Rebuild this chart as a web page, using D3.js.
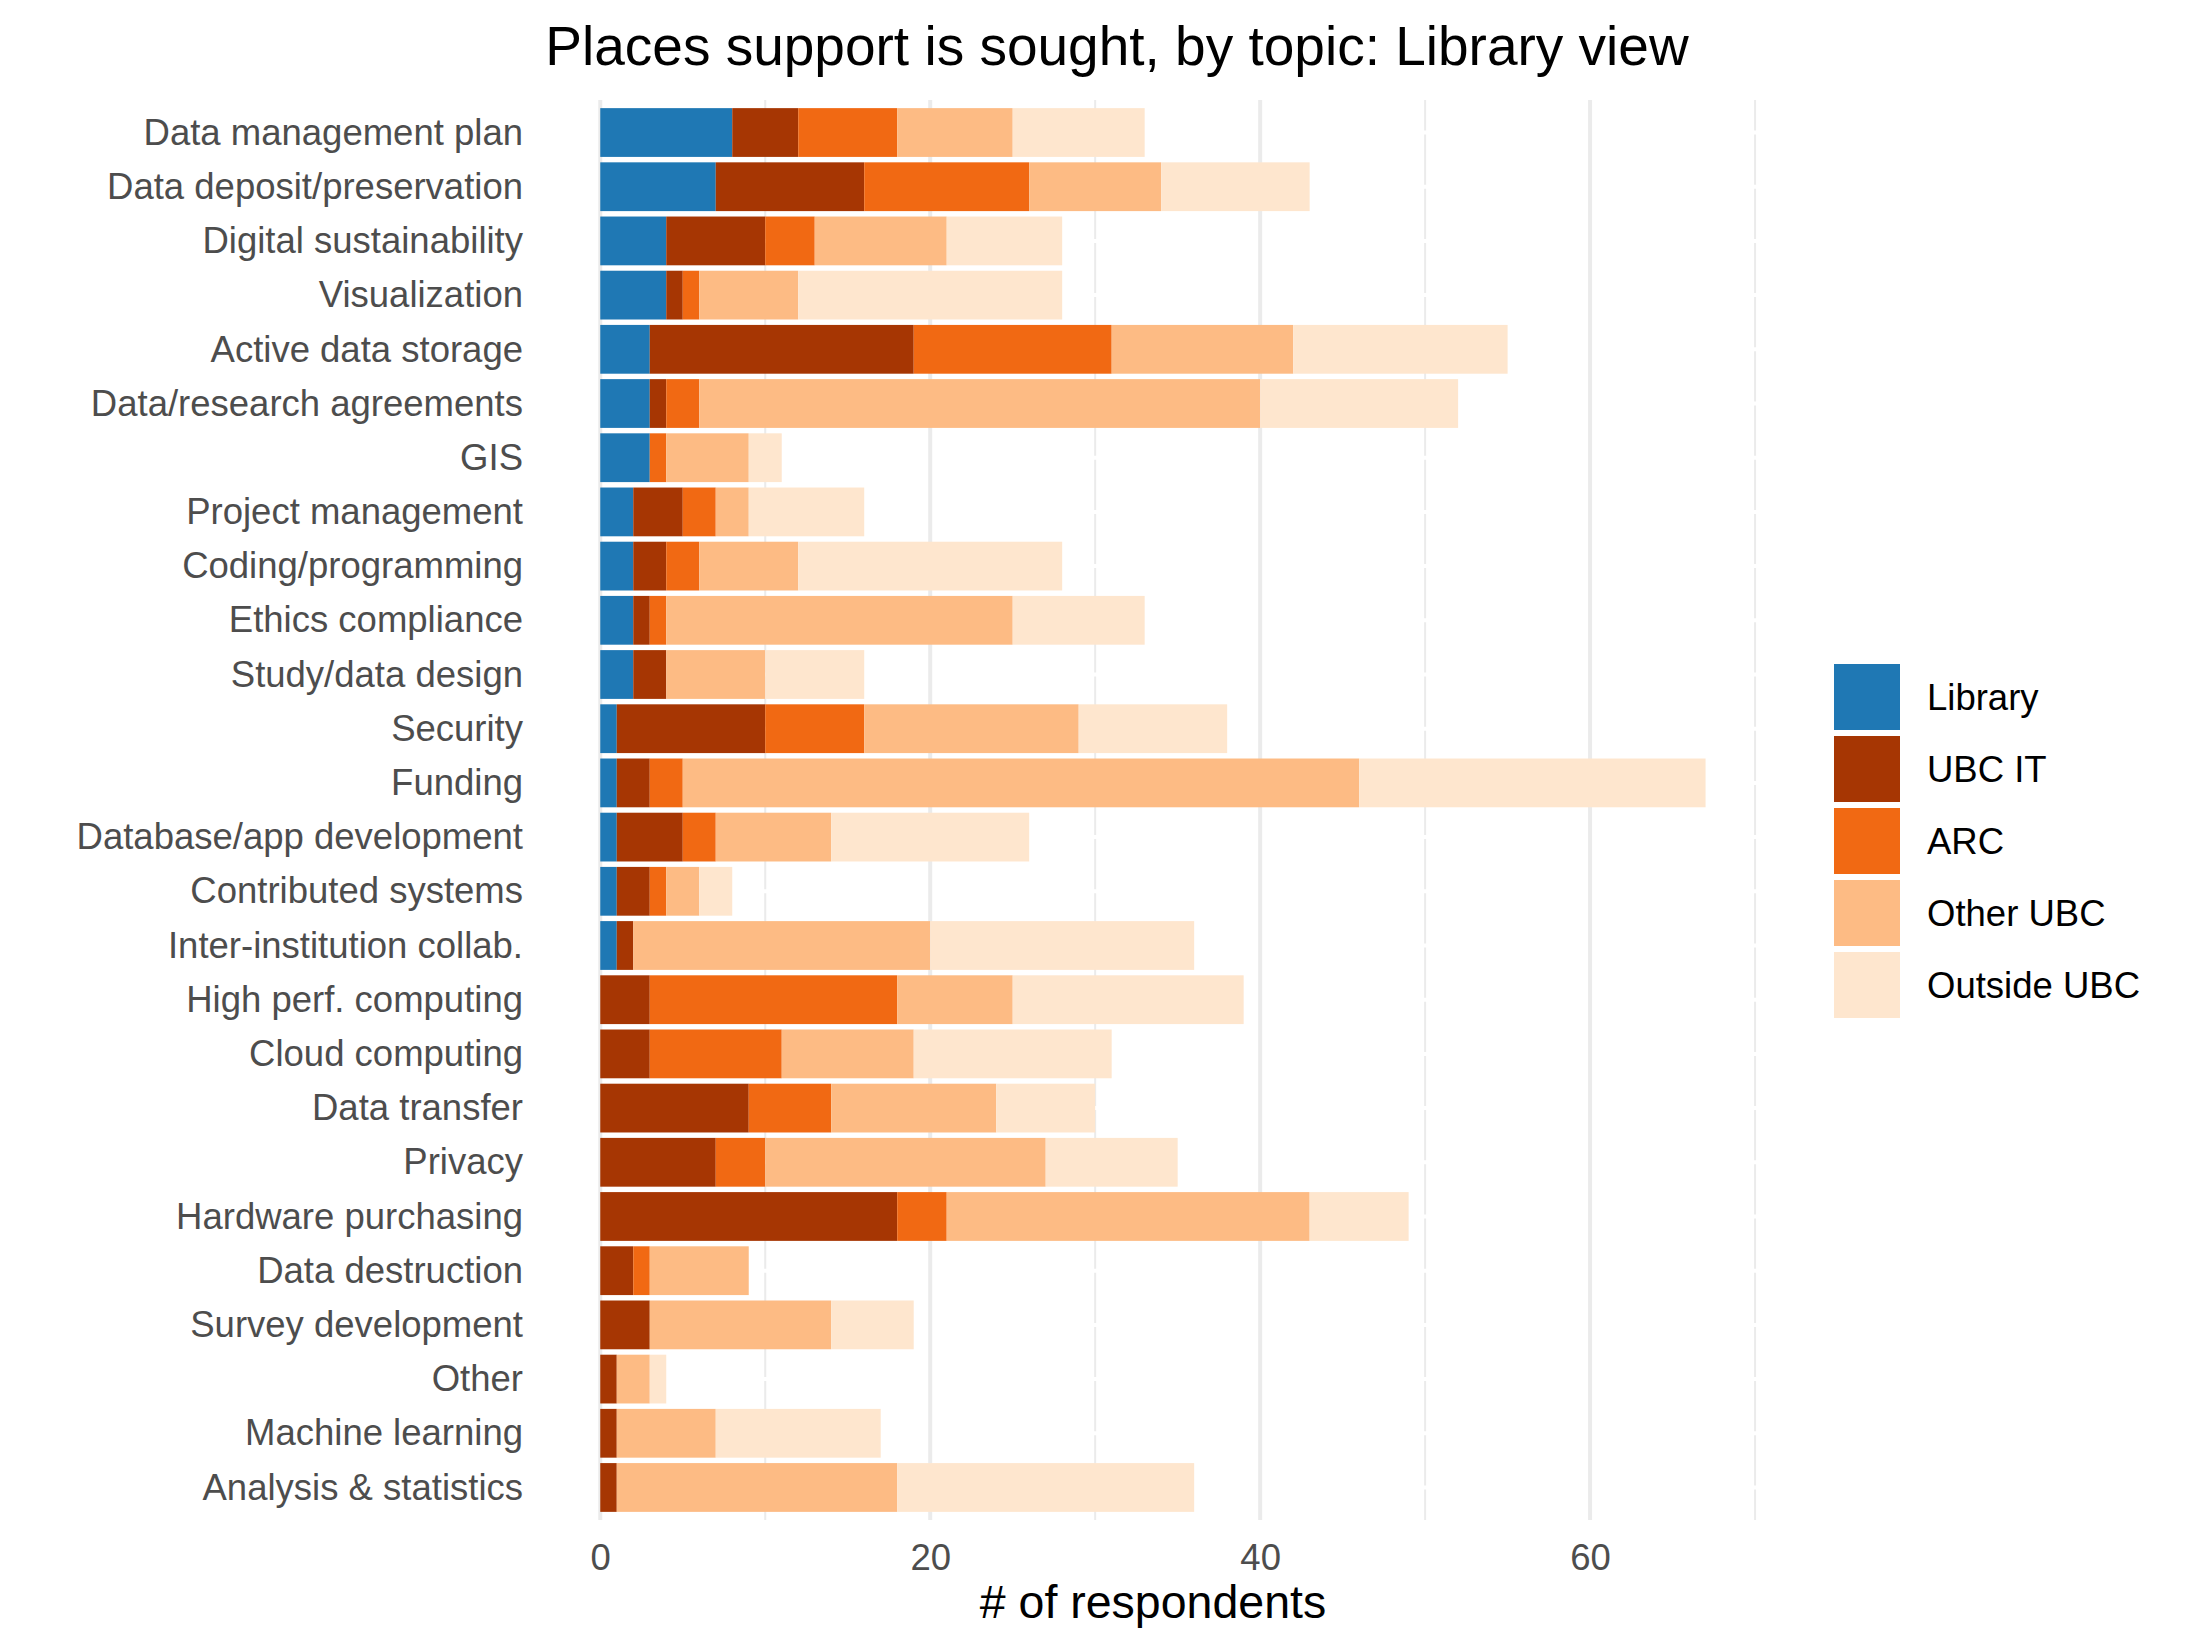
<!DOCTYPE html>
<html>
<head>
<meta charset="utf-8">
<script src="https://cdn.jsdelivr.net/npm/d3@7"></script>
<style>
  body { margin: 0; background: #fff; }
  text { font-family: "Liberation Sans", Arial, sans-serif; }
</style>
</head>
<body>
<div id="chart"></div>
<script>
// topics, top to bottom
var topics = ["Data management plan", "Data deposit/preservation", "Digital sustainability",
  "Visualization", "Active data storage", "Data/research agreements", "GIS",
  "Project management", "Coding/programming", "Ethics compliance", "Study/data design",
  "Security", "Funding", "Database/app development", "Contributed systems",
  "Inter-institution collab.", "High perf. computing", "Cloud computing", "Data transfer",
  "Privacy", "Hardware purchasing", "Data destruction", "Survey development", "Other",
  "Machine learning", "Analysis & statistics"];

var sources = ["Library", "UBC IT", "ARC", "Other UBC", "Outside UBC"];
var sourceColors = ["#1f78b4", "#a63603", "#f16913", "#fdbb84", "#fee6ce"];

var library  = [8, 7, 4, 4, 3, 3, 3, 2, 2, 2, 2, 1, 1, 1, 1, 1, 0, 0, 0, 0, 0, 0, 0, 0, 0, 0];
var ubcIT    = [4, 9, 6, 1, 16, 1, 0, 3, 2, 1, 2, 9, 2, 4, 2, 1, 3, 3, 9, 7, 18, 2, 3, 1, 1, 1];
var arc      = [6, 10, 3, 1, 12, 2, 1, 2, 2, 1, 0, 6, 2, 2, 1, 0, 15, 8, 5, 3, 3, 1, 0, 0, 0, 0];
var otherUBC = [7, 8, 8, 6, 11, 34, 5, 2, 6, 21, 6, 13, 41, 7, 2, 18, 7, 8, 10, 17, 22, 6, 11, 2, 6, 17];
var outside  = [8, 9, 7, 16, 13, 12, 2, 7, 16, 8, 6, 9, 21, 12, 2, 16, 14, 12, 6, 8, 6, 0, 5, 1, 10, 18];

var xMajor = [0, 20, 40, 60];
var xMinor = [10, 30, 50, 70];

var svgWidth = 2187;
var svgHeight = 1650;

var margin = {top: 100, left: 545, right: 426, bottom: 130};
var width = svgWidth - margin.left - margin.right;
var height = svgHeight - margin.top - margin.bottom;

var svg = d3.select("#chart")
  .append("svg")
  .attr("width", svgWidth)
  .attr("height", svgHeight);

var chartGroup = svg.append("g")
  .attr("transform", `translate(${margin.left}, ${margin.top})`);

// build rows for the stack
var table = topics.map(function(t, i) {
  return {
    topic: t,
    "Library": library[i],
    "UBC IT": ubcIT[i],
    "ARC": arc[i],
    "Other UBC": otherUBC[i],
    "Outside UBC": outside[i]
  };
});

var stacked = d3.stack().keys(sources)(table);

var maxTotal = d3.max(table, d => d3.sum(sources, k => d[k]));
var pad = maxTotal * 0.05;

var xScale = d3.scaleLinear()
  .domain([-pad, maxTotal + pad + 0.01])
  .range([0, width]);

// ggplot-like discrete expansion: 0.6 of a step on each side
var step = height / (topics.length - 1 + 1.2);
var yCenter = d3.scalePoint()
  .domain(topics)
  .range([0.6 * step, height - 0.6 * step]);
var barH = step * 0.9;

var color = d3.scaleOrdinal().domain(sources).range(sourceColors);

// grid: minor x, white major y, major x
chartGroup.selectAll(".minor")
  .data(xMinor)
  .enter()
  .append("line")
  .attr("x1", d => xScale(d))
  .attr("x2", d => xScale(d))
  .attr("y1", 0)
  .attr("y2", height)
  .attr("stroke", "#ebebeb")
  .attr("stroke-width", 2);

chartGroup.selectAll(".ygrid")
  .data(topics)
  .enter()
  .append("line")
  .attr("x1", 0)
  .attr("x2", width)
  .attr("y1", d => yCenter(d))
  .attr("y2", d => yCenter(d))
  .attr("stroke", "#ffffff")
  .attr("stroke-width", 4);

chartGroup.selectAll(".major")
  .data(xMajor)
  .enter()
  .append("line")
  .attr("x1", d => xScale(d))
  .attr("x2", d => xScale(d))
  .attr("y1", 0)
  .attr("y2", height)
  .attr("stroke", "#ebebeb")
  .attr("stroke-width", 4);

// bars
chartGroup.selectAll(".layer")
  .data(stacked)
  .enter()
  .append("g")
  .attr("fill", d => color(d.key))
  .selectAll("rect")
  .data(d => d)
  .enter()
  .append("rect")
  .attr("x", d => xScale(d[0]))
  .attr("width", d => xScale(d[1]) - xScale(d[0]))
  .attr("y", d => yCenter(d.data.topic) - barH / 2)
  .attr("height", barH);

// y axis labels
var leftAxis = d3.axisLeft(yCenter).tickSize(0).tickPadding(22);
var yAxis = chartGroup.append("g").call(leftAxis);
yAxis.select(".domain").remove();
yAxis.selectAll("text")
  .attr("font-size", 36.5)
  .attr("fill", "#4d4d4d")
  .style("font-family", "'Liberation Sans', Arial, sans-serif");

// x axis labels
var bottomAxis = d3.axisBottom(xScale).tickValues(xMajor).tickSize(0).tickPadding(24);
var xAxis = chartGroup.append("g")
  .attr("transform", `translate(0, ${height})`)
  .call(bottomAxis);
xAxis.select(".domain").remove();
xAxis.selectAll("text")
  .attr("font-size", 36.5)
  .attr("fill", "#4d4d4d")
  .style("font-family", "'Liberation Sans', Arial, sans-serif");

// axis title
chartGroup.append("text")
  .attr("x", width / 2)
  .attr("y", height + 98)
  .attr("text-anchor", "middle")
  .attr("font-size", 46.5)
  .attr("fill", "#000")
  .text("# of respondents");

// title
svg.append("text")
  .attr("x", 1117)
  .attr("y", 65)
  .attr("text-anchor", "middle")
  .attr("font-size", 55)
  .attr("fill", "#000")
  .text("Places support is sought, by topic: Library view");

// legend
var legend = svg.append("g")
  .attr("transform", "translate(1834, 664)");

var items = legend.selectAll("g")
  .data(sources)
  .enter()
  .append("g")
  .attr("transform", (d, i) => `translate(0, ${i * 72})`);

items.append("rect")
  .attr("width", 66)
  .attr("height", 66)
  .attr("fill", d => color(d));

items.append("text")
  .attr("x", 93)
  .attr("y", 33)
  .attr("dy", "0.35em")
  .attr("font-size", 36.5)
  .attr("fill", "#000")
  .text(d => d);
</script>
</body>
</html>
